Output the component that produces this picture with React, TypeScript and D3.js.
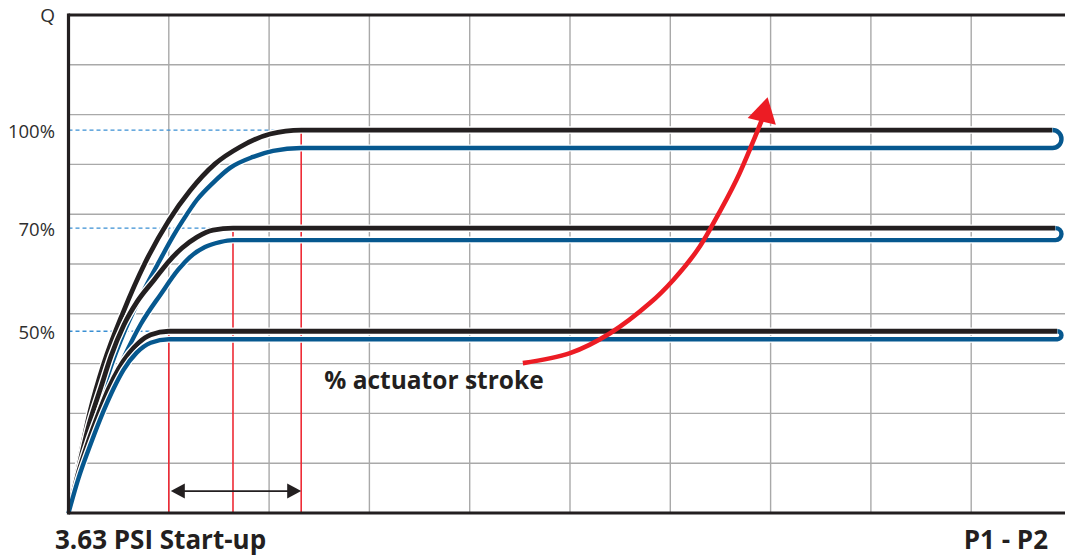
import React from "react";
import * as d3 from "d3";

const W = 1065;
const H = 557;

// grid ticks (grid units)
const xGridTicks = [1, 2, 3, 4, 5, 6, 7, 8, 9, 10];
const yGridTicks = [1, 2, 3, 4, 5, 6, 7, 8, 9, 10];

// levels
const levelLabels = ["100%", "70%", "50%"];
const blackLevels = [7.69, 5.72, 3.65];
const blueLevels = [7.33, 5.48, 3.49];
const plateauStart = [2.32, 1.64, 1.0];
const capExtreme = 9.9;

// rising curves (x, Q) in grid units
const black100: [number, number][] = [
  [0, 0], [0.105, 1.02], [0.214, 2.03], [0.354, 3.01], [0.543, 4.02], [0.763, 5.02],
  [1.002, 5.88], [1.211, 6.47], [1.461, 7.01], [1.71, 7.35], [2.01, 7.61], [2.32, 7.69],
];
const blue100: [number, number][] = [
  [0, 0], [0.115, 0.86], [0.244, 1.77], [0.394, 2.77], [0.563, 3.67], [0.763, 4.52],
  [0.912, 5.08], [1.032, 5.52], [1.142, 5.88], [1.281, 6.29], [1.441, 6.63], [1.611, 6.93],
  [1.84, 7.15], [2.04, 7.27], [2.32, 7.33],
];
const black70: [number, number][] = [
  [0, 0], [0.095, 0.86], [0.204, 1.77], [0.324, 2.53], [0.424, 3.15], [0.553, 3.78],
  [0.683, 4.24], [0.853, 4.68], [1.012, 5.08], [1.132, 5.32], [1.281, 5.54], [1.441, 5.68],
  [1.64, 5.72],
];
const blue70: [number, number][] = [
  [0, 0], [0.125, 0.86], [0.264, 1.75], [0.424, 2.55], [0.553, 3.13], [0.723, 3.8],
  [0.922, 4.4], [1.092, 4.88], [1.211, 5.14], [1.361, 5.34], [1.51, 5.44], [1.64, 5.48],
];
const black50: [number, number][] = [
  [0, 0], [0.1, 0.82], [0.2, 1.45], [0.3, 2.0], [0.4, 2.5], [0.5, 2.9],
  [0.6, 3.2], [0.7, 3.42], [0.82, 3.58], [1.0, 3.65],
];
const blue50: [number, number][] = [
  [0, 0], [0.1, 0.7], [0.22, 1.38], [0.35, 2.05], [0.45, 2.5], [0.55, 2.88],
  [0.68, 3.22], [0.82, 3.42], [1.0, 3.49],
];

const blackCurves = [black100, black70, black50];
const blueCurves = [blue100, blue70, blue50];

// annotations (grid units)
const strokeArrow: [number, number][] = [
  [4.53, 3.01], [5.0, 3.21], [5.4, 3.61], [5.8, 4.22], [6.03, 4.68], [6.27, 5.28],
  [6.43, 5.82], [6.66, 6.69], [6.82, 7.43], [6.92, 7.93],
];
const strokeArrowTip: [number, number] = [6.97, 8.35];
const strokeLabel = "% actuator stroke";
const strokeLabelPos: [number, number] = [2.55, 2.48];
const spanArrowY = 0.44;
const yAxisLabel = "Q";
const xLabelLeft = "3.63 PSI Start-up";
const xLabelRight = "P1 - P2";

const C_BLACK = "#231f20";
const C_BLUE = "#06588f";
const C_DASH = "#3a8fd3";
const C_RED = "#ee2b36";
const C_ARROW = "#ec1c24";
const C_GRID = "#a9a9a9";
const FONT = "'Open Sans', 'Noto Sans', sans-serif";

export default function App() {
  const x = d3.scaleLinear().domain([0, 10]).range([68.5, 1071.5]);
  const y = d3.scaleLinear().domain([0, 10]).range([513, 15]);
  const line = d3
    .line<[number, number]>()
    .x((d) => x(d[0]))
    .y((d) => y(d[1]))
    .curve(d3.curveMonotoneX);

  const pairs = levelLabels.map((lab, i) => {
    const yb = y(blackLevels[i]);
    const yl = y(blueLevels[i]);
    const r = (yl - yb) / 2;
    const cx = x(capExtreme) - r;
    const cxU = x.invert(cx);
    const blackPath = line([...blackCurves[i], [cxU, blackLevels[i]]]) as string;
    const bluePath =
      (line([...blueCurves[i], [cxU, blueLevels[i]]]) as string) +
      `A${r},${r} 0 0 0 ${cx},${yb}`;
    return { lab, i, blackPath, bluePath };
  });

  // arrowhead of the red arrow
  const last = strokeArrow[strokeArrow.length - 1];
  const tx = x(strokeArrowTip[0]);
  const ty = y(strokeArrowTip[1]);
  const bx = x(last[0]);
  const by = y(last[1]);
  const len = Math.hypot(tx - bx, ty - by);
  const ux = (tx - bx) / len;
  const uy = (ty - by) / len;
  const headL = 25;
  const headW = 14.5;
  const hbx = tx - ux * headL;
  const hby = ty - uy * headL;
  const head = [
    [tx, ty],
    [hbx - uy * headW, hby + ux * headW],
    [hbx + uy * headW, hby - ux * headW],
  ]
    .map((p) => p.join(","))
    .join(" ");
  const arrowLine = d3
    .line<[number, number]>()
    .x((d) => x(d[0]))
    .y((d) => y(d[1]))
    .curve(d3.curveCatmullRom)(strokeArrow) as string;

  // span double arrow
  const sx0 = x(plateauStart[2]) + 2;
  const sx1 = x(plateauStart[0]);
  const sy = y(spanArrowY);
  const aL = 14;
  const aH = 7.5;

  return (
    <svg
      width={W}
      height={H}
      style={{ position: "absolute", left: 0, top: 0, background: "#fff" }}
    >
      {/* grid */}
      {xGridTicks.map((t) => (
        <line key={"gx" + t} x1={x(t)} x2={x(t)} y1={y(0)} y2={y(10)} stroke={C_GRID} strokeWidth={1.4} />
      ))}
      {yGridTicks.map((t) => (
        <line key={"gy" + t} x1={x(0)} x2={W} y1={y(t)} y2={y(t)} stroke={C_GRID} strokeWidth={1.4} />
      ))}

      {/* red verticals */}
      {plateauStart.map((p, i) => (
        <line key={"rv" + i} x1={x(p)} x2={x(p)} y1={y(blackLevels[i])} y2={y(0)} stroke={C_RED} strokeWidth={1.6} />
      ))}

      {/* dashed level lines */}
      {blackLevels.map((v, i) => (
        <line
          key={"dl" + i}
          x1={x(0)}
          x2={x(plateauStart[i])}
          y1={y(v)}
          y2={y(v)}
          stroke={C_DASH}
          strokeWidth={1.3}
          strokeDasharray="4 3"
        />
      ))}

      {/* curves */}
      {pairs.map((p) => (
        <g key={"c" + p.i}>
          <path d={p.blackPath} fill="none" stroke="#fff" strokeWidth={7.5} />
          <path d={p.blackPath} fill="none" stroke={C_BLACK} strokeWidth={4.8} />
          <path d={p.bluePath} fill="none" stroke="#fff" strokeWidth={7} />
          <path d={p.bluePath} fill="none" stroke={C_BLUE} strokeWidth={4.4} />
        </g>
      ))}

      {/* axes frame */}
      <line x1={x(0)} x2={x(0)} y1={y(10) - 1.5} y2={y(0) + 1.5} stroke={C_BLACK} strokeWidth={3.2} />
      <line x1={x(0)} x2={W} y1={y(10)} y2={y(10)} stroke={C_BLACK} strokeWidth={3} />
      <line x1={x(0)} x2={W} y1={y(0)} y2={y(0)} stroke={C_BLACK} strokeWidth={3} />

      {/* span arrow */}
      <line x1={sx0 + aL - 1} x2={sx1 - aL + 1} y1={sy} y2={sy} stroke={C_BLACK} strokeWidth={1.6} />
      <polygon points={`${sx0},${sy} ${sx0 + aL},${sy - aH} ${sx0 + aL},${sy + aH}`} fill={C_BLACK} />
      <polygon points={`${sx1},${sy} ${sx1 - aL},${sy - aH} ${sx1 - aL},${sy + aH}`} fill={C_BLACK} />

      {/* red arrow */}
      <path d={arrowLine} fill="none" stroke={C_ARROW} strokeWidth={4.6} />
      <polygon points={head} fill={C_ARROW} />

      {/* labels */}
      {levelLabels.map((lab, i) => (
        <text
          key={"tl" + i}
          x={55}
          y={y(blackLevels[i])}
          textAnchor="end"
          dominantBaseline="central"
          fontFamily={FONT}
          fontSize={18.5}
          fill="#2e2e2e"
        >
          {lab}
        </text>
      ))}
      <text x={55} y={22} textAnchor="end" fontFamily={FONT} fontSize={19} fill="#2e2e2e">
        {yAxisLabel}
      </text>
      <text
        x={x(strokeLabelPos[0])}
        y={y(strokeLabelPos[1])}
        fontFamily={FONT}
        fontSize={24.5}
        fontWeight="bold"
        fill={C_BLACK}
      >
        {strokeLabel}
      </text>
      <text x={55} y={549} fontFamily={FONT} fontSize={26} fontWeight="bold" fill={C_BLACK}>
        {xLabelLeft}
      </text>
      <text x={1048} y={549} textAnchor="end" fontFamily={FONT} fontSize={26} fontWeight="bold" fill={C_BLACK}>
        {xLabelRight}
      </text>
    </svg>
  );
}
